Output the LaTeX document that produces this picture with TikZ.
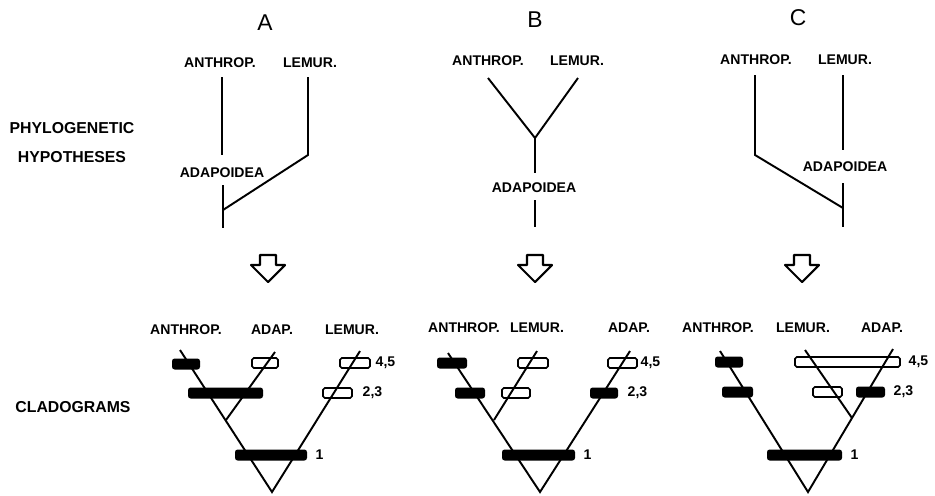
\documentclass[tikz,border=0pt]{standalone}
\usepackage{fontspec}
\newfontfamily\labfont{Liberation Sans}
\begin{document}
\begin{tikzpicture}[x=0.02cm,y=-0.02cm,line width=1.1pt,
		lab/.style={font=\labfont\bfseries\fontsize{8}{9}\selectfont,inner sep=1pt},
		rowlab/.style={font=\labfont\bfseries\fontsize{9}{10}\selectfont,inner sep=1pt},
		head/.style={font=\labfont\fontsize{13}{15}\selectfont,inner sep=0pt},
		darkbar/.style={fill=black,rounded corners=1.5pt,inner sep=0pt,minimum height=0.22cm,minimum width=#1*0.02cm},
		openbar/.style={draw=black,line width=0.9pt,rounded corners=1pt,inner sep=0pt,minimum height=0.2cm,minimum width=#1*0.02cm}]
			\useasboundingbox (0,0) rectangle (935,495);
			% row titles
			\node[rowlab] (phylo) at (72,128) {PHYLOGENETIC};
			\node[rowlab] (hypo) at (72,157) {HYPOTHESES};
			\node[rowlab] (clado) at (73,407) {CLADOGRAMS};
			\node[head] (hA) at (265,23) {A};
			\node[head] (hB) at (535,20) {B};
			\node[head] (hC) at (798,18) {C};
			% hypothesis A
			\node[lab] (pA1) at (220,63) {ANTHROP.};
			\node[lab] (pA2) at (310,63) {LEMUR.};
			\node[lab] (pA3) at (222,173) {ADAPOIDEA};
			\coordinate (a1) at (222,77);
			\coordinate (a2) at (222,155);
			\coordinate (a3) at (223,185);
			\coordinate (a4) at (223,228);
			\coordinate (a5) at (308,77);
			\coordinate (a6) at (308,155);
			\coordinate (a7) at (223,210);
			\draw (a1) to (a2);
			\draw (a3) to (a4);
			\draw (a5) -- (a6) -- (a7);
			% hypothesis B
			\node[lab] (pB1) at (488,61) {ANTHROP.};
			\node[lab] (pB2) at (577,61) {LEMUR.};
			\node[lab] (pB3) at (534,188) {ADAPOIDEA};
			\coordinate (b1) at (488,78);
			\coordinate (b2) at (535,138);
			\coordinate (b3) at (578,78);
			\coordinate (b4) at (535,173);
			\coordinate (b5) at (535,200);
			\coordinate (b6) at (535,227);
			\draw (b1) -- (b2) -- (b3);
			\draw (b2) to (b4);
			\draw (b5) to (b6);
			% hypothesis C
			\node[lab] (pC1) at (756,60) {ANTHROP.};
			\node[lab] (pC2) at (845,60) {LEMUR.};
			\node[lab] (pC3) at (845,167) {ADAPOIDEA};
			\coordinate (c1) at (755,75);
			\coordinate (c2) at (755,155);
			\coordinate (c3) at (843,208);
			\coordinate (c4) at (843,75);
			\coordinate (c5) at (843,150);
			\coordinate (c6) at (843,183);
			\coordinate (c7) at (843,227);
			\draw (c1) -- (c2) -- (c3);
			\draw (c4) to (c5);
			\draw (c6) to (c7);
			% hollow arrows
			\foreach \x in {268,535,802}
				\draw[line width=1.2pt,line join=round] (\x-8,255) -- (\x+8,255) -- (\x+8,265) -- (\x+17,265) -- (\x,282) -- (\x-17,265) -- (\x-8,265) -- cycle;
			% cladogram A
			\node[lab] (kA1) at (186,330) {ANTHROP.};
			\node[lab] (kA2) at (272,330) {ADAP.};
			\node[lab] (kA3) at (352,330) {LEMUR.};
			\coordinate (rootA) at (272,492);
			\coordinate (antA) at (180,350);
			\coordinate (lemA) at (360,351);
			\coordinate (adaA) at (275,352);
			\coordinate (junA) at (226,420);
			\draw (antA) -- (rootA) -- (lemA);
			\draw (junA) to (adaA);
			\node[darkbar=72] (A1) at (271,455) {};
			\node[darkbar=28] (A45a) at (186,364) {};
			\node[darkbar=75] (A23a) at (225.5,393) {};
			\node[openbar=26] (A45b) at (265,363) {};
			\node[openbar=30] (A45c) at (355,363) {};
			\node[openbar=29] (A23c) at (337.5,393) {};
			\node[lab,anchor=west] (nA1) at (313,455) {1};
			\node[lab,anchor=west] (nA45) at (373,363) {4,5};
			\node[lab,anchor=west] (nA23) at (360,393) {2,3};
			% cladogram B
			\node[lab] (kB1) at (464,328) {ANTHROP.};
			\node[lab] (kB2) at (537,328) {LEMUR.};
			\node[lab] (kB3) at (629,328) {ADAP.};
			\coordinate (rootB) at (540,492);
			\coordinate (antB) at (448,353);
			\coordinate (adaB) at (630,351);
			\coordinate (lemB) at (537,351);
			\coordinate (junB) at (494,420);
			\draw (antB) -- (rootB) -- (adaB);
			\draw (junB) to (lemB);
			\node[darkbar=73] (B1) at (538.5,455) {};
			\node[darkbar=30] (B45a) at (452,363) {};
			\node[openbar=30] (B45b) at (533,363) {};
			\node[openbar=29] (B45c) at (622.5,363) {};
			\node[darkbar=30] (B23a) at (470,393) {};
			\node[openbar=28] (B23b) at (516,393) {};
			\node[darkbar=28] (B23c) at (604,393) {};
			\node[lab,anchor=west] (nB1) at (581,455) {1};
			\node[lab,anchor=west] (nB45) at (638,363) {4,5};
			\node[lab,anchor=west] (nB23) at (625,393) {2,3};
			% cladogram C
			\node[lab] (kC1) at (718,328) {ANTHROP.};
			\node[lab] (kC2) at (803,328) {LEMUR.};
			\node[lab] (kC3) at (882,328) {ADAP.};
			\coordinate (rootC) at (808,492);
			\coordinate (antC) at (720,351);
			\coordinate (adaC) at (893,349);
			\coordinate (lemC) at (805,350);
			\coordinate (junC) at (852,418);
			\draw (antC) -- (rootC) -- (adaC);
			\draw (junC) to (lemC);
			\node[darkbar=75] (C1) at (804.5,455) {};
			\node[darkbar=28] (C45a) at (729,362) {};
			\node[openbar=105] (C45b) at (847.5,362) {};
			\node[darkbar=31] (C23a) at (737.5,392) {};
			\node[openbar=29] (C23b) at (827.5,392) {};
			\node[darkbar=29] (C23c) at (870.5,392) {};
			\node[lab,anchor=west] (nC1) at (848,455) {1};
			\node[lab,anchor=west] (nC45) at (906,362) {4,5};
			\node[lab,anchor=west] (nC23) at (891,392) {2,3};
		\end{tikzpicture}
\end{document}
